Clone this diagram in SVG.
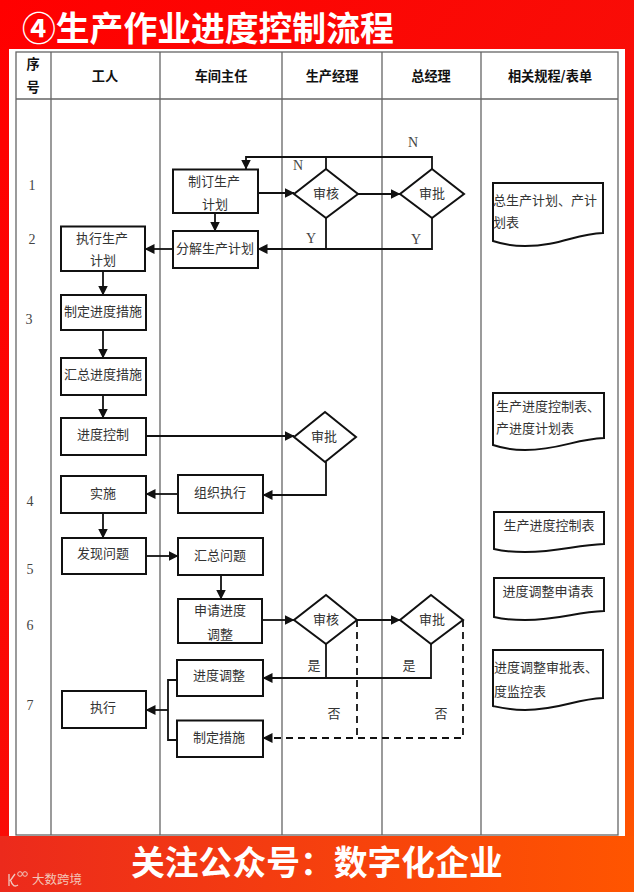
<svg xmlns="http://www.w3.org/2000/svg" width="634" height="892" viewBox="0 0 634 892">
<style>
text{font-family:"Noto Sans CJK SC","Noto Sans",sans-serif;fill:#333}
.t{font-size:13px;text-anchor:middle}
.l{font-size:13px}
.h{font-size:13.200px;font-weight:700;text-anchor:middle;fill:#111}
.n{font-family:"Liberation Serif",serif;font-size:14px;text-anchor:middle;fill:#444}
.big{font-size:33.800px;font-weight:700;fill:#fff}
.g{fill:none;stroke:#666;stroke-width:1.3}
.s{fill:#fff;stroke:#111;stroke-width:2}
.c{fill:none;stroke:#111;stroke-width:1.8}
.d{stroke-dasharray:7 5}
</style>
<defs>
<linearGradient id="bg" x1="0" y1="0" x2="1" y2="1"><stop offset="0" stop-color="#f00"/><stop offset=".62" stop-color="#f80f08"/><stop offset="1" stop-color="#ff5a00"/></linearGradient>
<linearGradient id="ft" x1="0" y1="0" x2="1" y2="0"><stop offset="0" stop-color="#ec2a1c"/><stop offset="1" stop-color="#ff5500"/></linearGradient>
<marker id="a" viewBox="0 0 10 10" refX="9.500" refY="5" markerWidth="10" markerHeight="10" markerUnits="userSpaceOnUse" orient="auto"><path d="M0 0L10 5L0 10Z" fill="#111"/></marker>
</defs>
<rect width="634" height="892" fill="url(#bg)"/>
<rect y="836" width="634" height="56" fill="url(#ft)"/>
<rect x="9" y="49" width="616" height="787" fill="#fff"/>
<g id="title"><text class="big" x="22" y="41">④生产作业进度控制流程</text></g>
<g id="grid">
<rect class="g" x="16" y="52" width="602" height="783"/>
<path class="g" d="M51 52V835M160 52V835M282 52V835M382 52V835M481 52V835M16 99H618"/>
<text class="h" x="33" y="69">序</text><text class="h" x="33" y="92">号</text>
<text class="h" x="105" y="81">工人</text>
<text class="h" x="221" y="81">车间主任</text>
<text class="h" x="332" y="81">生产经理</text>
<text class="h" x="431" y="81">总经理</text>
<text class="h" x="550" y="81">相关规程/表单</text>
</g>
<g id="row-numbers">
<text class="n" x="32" y="190">1</text><text class="n" x="32" y="244">2</text><text class="n" x="29" y="324">3</text><text class="n" x="30" y="506">4</text><text class="n" x="30" y="574">5</text><text class="n" x="30" y="630">6</text><text class="n" x="30" y="710">7</text>
</g>
<g id="connectors">
<path class="c" marker-end="url(#a)" d="M432 169V157H246V169"/>
<path class="c" d="M326 169V157"/>
<path class="c" marker-end="url(#a)" d="M258 193H294"/>
<path class="c" marker-end="url(#a)" d="M358 194H400"/>
<path class="c" marker-end="url(#a)" d="M215 213V231"/>
<path class="c" marker-end="url(#a)" d="M432 218V249H258"/>
<path class="c" d="M326 218V249"/>
<path class="c" marker-end="url(#a)" d="M173 249H145"/>
<path class="c" marker-end="url(#a)" d="M103 271V295"/>
<path class="c" marker-end="url(#a)" d="M103 330V358"/>
<path class="c" marker-end="url(#a)" d="M103 395V418"/>
<path class="c" marker-end="url(#a)" d="M146 436H294"/>
<path class="c" marker-end="url(#a)" d="M326 462V495H263"/>
<path class="c" marker-end="url(#a)" d="M178 494H146"/>
<path class="c" marker-end="url(#a)" d="M103 513V538"/>
<path class="c" marker-end="url(#a)" d="M146 556H178"/>
<path class="c" marker-end="url(#a)" d="M221 575V599"/>
<path class="c" marker-end="url(#a)" d="M262 620H294"/>
<path class="c" marker-end="url(#a)" d="M357 620H400"/>
<path class="c" marker-end="url(#a)" d="M431 644V678H263"/>
<path class="c" d="M326 644V678"/>
<path class="c" d="M177 680H168V740H177"/>
<path class="c" marker-end="url(#a)" d="M168 710H146"/>
<path class="c d" d="M357 620V738"/>
<path class="c d" marker-end="url(#a)" d="M463 620V738H263"/>
</g>
<g id="n1"><rect class="s" x="173" y="169.500" width="85" height="43.500"/><text class="t" x="214" y="186">制订生产</text><text class="t" x="215" y="209">计划</text></g>
<g id="n2"><rect class="s" x="173" y="231" width="85" height="37"/><text class="t" x="215" y="253">分解生产计划</text></g>
<g id="n3"><rect class="s" x="61" y="226.500" width="84" height="44.500"/><text class="t" x="102" y="243">执行生产</text><text class="t" x="103" y="265">计划</text></g>
<g id="n4"><rect class="s" x="61" y="295" width="85" height="35"/><text class="t" x="103" y="316">制定进度措施</text></g>
<g id="n5"><rect class="s" x="61" y="358" width="85" height="37"/><text class="t" x="103" y="379">汇总进度措施</text></g>
<g id="n6"><rect class="s" x="61" y="418" width="85" height="37"/><text class="t" x="103" y="439">进度控制</text></g>
<g id="n7"><rect class="s" x="178" y="475" width="85" height="38"/><text class="t" x="220" y="497">组织执行</text></g>
<g id="n8"><rect class="s" x="61" y="476" width="85" height="37"/><text class="t" x="103" y="498">实施</text></g>
<g id="n9"><rect class="s" x="62" y="538" width="84" height="36"/><text class="t" x="103" y="558">发现问题</text></g>
<g id="n10"><rect class="s" x="178" y="538" width="85" height="37"/><text class="t" x="220" y="560">汇总问题</text></g>
<g id="n11"><rect class="s" x="178" y="599" width="84" height="44"/><text class="t" x="220" y="615">申请进度</text><text class="t" x="220" y="639">调整</text></g>
<g id="n12"><rect class="s" x="177" y="660" width="86" height="36"/><text class="t" x="219" y="680">进度调整</text></g>
<g id="n13"><rect class="s" x="177" y="720.500" width="86" height="36.500"/><text class="t" x="219" y="742">制定措施</text></g>
<g id="n14"><rect class="s" x="62" y="691" width="84" height="37"/><text class="t" x="103" y="712">执行</text></g>
<g id="d1"><path class="s" d="M326 169L358 194L326 218L294 194Z"/><text class="t" x="326" y="198">审核</text></g>
<g id="d2"><path class="s" d="M432 169L464 194L432 218L400 194Z"/><text class="t" x="432" y="198">审批</text></g>
<g id="d3"><path class="s" d="M325 412L356 437L325 462L294 437Z"/><text class="t" x="324" y="441">审批</text></g>
<g id="d4"><path class="s" d="M326 595L357 620L326 644L294 620Z"/><text class="t" x="326" y="624">审核</text></g>
<g id="d5"><path class="s" d="M431 595L463 620L431 644L400 620Z"/><text class="t" x="432" y="624">审批</text></g>
<g id="labels">
<text class="n" x="413" y="147">N</text><text class="n" x="298" y="170">N</text><text class="n" x="311" y="243">Y</text><text class="n" x="416" y="244">Y</text>
<text class="t" x="314" y="670">是</text><text class="t" x="409" y="670">是</text><text class="t" x="334" y="718">否</text><text class="t" x="441" y="718">否</text>
</g>
<g id="doc1"><path class="s" d="M493 183H603V233C575 234 560 246 525 246C510 246 502 244 493 241Z"/><text class="l" x="493" y="205">总生产计划、产计</text><text class="l" x="493" y="227">划表</text></g>
<g id="doc2"><path class="s" d="M493 393H604V438C575 439 560 450 525 450C510 450 502 448 493 445Z"/><text class="l" x="496" y="411">生产进度控制表、</text><text class="l" x="496" y="433">产进度计划表</text></g>
<g id="doc3"><path class="s" d="M494 512H604V544C575 545 560 552 525 552C510 552 502 551 494 549Z"/><text class="t" x="549" y="530">生产进度控制表</text></g>
<g id="doc4"><path class="s" d="M494 578H604V611C575 612 560 620 525 620C510 620 502 619 494 617Z"/><text class="t" x="548" y="596">进度调整申请表</text></g>
<g id="doc5"><path class="s" d="M493 650H603V698C575 699 560 710 525 710C510 710 502 708 493 706Z"/><text class="l" x="494" y="672">进度调整审批表、</text><text class="l" x="494" y="696">度监控表</text></g>
<g id="footer"><text class="big" x="131" y="875">关注公众号：数字化企业</text>
<path d="M9 874V886M10 881L15 874M11 881C12 886 15 887 18 885" fill="none" stroke="#f0c8c0" stroke-width="1.300"/><circle cx="20" cy="874" r="2.300" fill="none" stroke="#f0c8c0"/><circle cx="25" cy="874" r="2.300" fill="none" stroke="#f0c8c0"/>
<text x="32" y="884" style="font-size:12.500px;fill:#f3c4b8">大数跨境</text></g>
</svg>
